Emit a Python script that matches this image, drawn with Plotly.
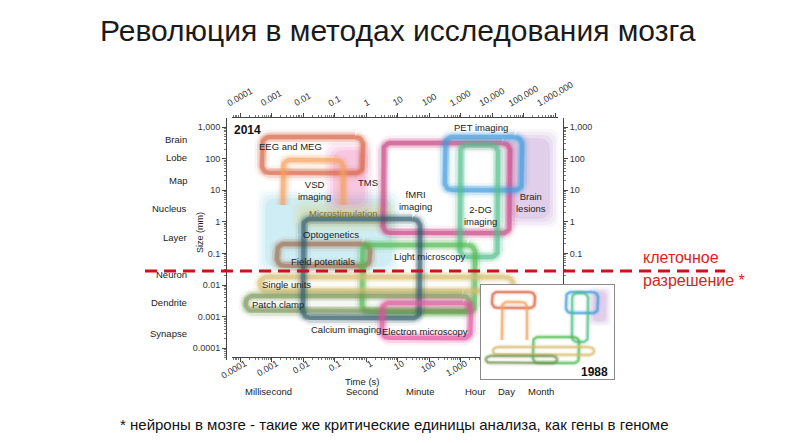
import numpy as np
import plotly.graph_objects as go

# ------------------------------------------------------------------ data
# 2014 panel: outlined methods (time range in s, size range in mm)
methods = ["EEG and MEG", "VSD imaging", "fMRI imaging", "PET imaging", "2-DG imaging",
           "Field potentials", "Light microscopy", "Single units", "Patch clamp",
           "Calcium imaging", "Electron microscopy"]
t_min = [5e-4, 2.3e-3, 3.5, 320, 960, 1.5e-3, 0.75, 4.3e-4, 1.5e-4, 0.01, 3.2]
t_max = [0.8, 0.19, 37000, 90000, 15500, 1.34, 2900, 46000, 2000, 52, 2150]
s_min = [35, 3.4, 0.44, 10, 0.077, 0.04, 0.0014, 0.0065, 0.0015, 0.0009, 0.00021]
s_max = [480, 90, 310, 480, 270, 0.2, 0.185, 0.018, 0.0045, 1.23, 0.0027]

# 2014 panel: soft filled regions
regions = ["Optogenetics", "Microstimulation", "TMS", "Brain lesions"]
r_t_min = [5e-4, 6.5e-3, 0.072, 3.0e4]
r_t_max = [8.3, 6.7, 1.16, 8.6e5]
r_s_min = [0.03, 0.64, 2.7, 1.0]
r_s_max = [7.0, 3.4, 233, 558]

# 1988 panel
methods_1988 = ["EEG and MEG", "VSD imaging", "PET imaging", "2-DG imaging",
                "Light microscopy", "Single units", "Patch clamp"]
t_min_1988 = [2.6e-4, 1.7e-3, 340, 1070, 0.63, 3.1e-4, 8.1e-5]
t_max_1988 = [0.93, 0.2, 1.5e5, 22400, 4070, 7.1e4, 62]
s_min_1988 = [35, 0.066, 13, 0.045, 7.2e-4, 0.0035, 7.2e-4]
s_max_1988 = [790, 112, 790, 660, 0.117, 0.0166, 0.0029]
regions_1988 = ["Brain lesions"]
r_t_min_1988 = [4e4]
r_t_max_1988 = [1e6]
r_s_min_1988 = [1.9]
r_s_max_1988 = [1170]

# axes
time_ticks = [1e-4, 1e-3, 1e-2, 1e-1, 1, 10, 100, 1e3, 1e4, 1e5, 1e6]
time_tick_labels = ["0.0001", "0.001", "0.01", "0.1", "1", "10", "100", "1,000",
                    "10,000", "100,000", "1,000,000"]
size_ticks = [1e3, 100, 10, 1, 0.1, 0.01, 1e-3, 1e-4]
size_tick_labels = ["1,000", "100", "10", "1", "0.1", "0.01", "0.001", "0.0001"]
scale_names = ["Brain", "Lobe", "Map", "Nucleus", "Layer", "Neuron", "Dendrite", "Synapse"]
scale_sizes_mm = [416, 112, 21, 2.6, 0.31, 0.021, 0.0029, 0.0003]
time_units = ["Millisecond", "Second", "Minute", "Hour", "Day", "Month"]
cell_resolution_mm = 0.028

title = "Революция в методах исследования мозга"
footnote = "* нейроны в мозге - такие же критические единицы анализа, как гены в геноме"
red_note = ["клеточное", "разрешение *"]

# ------------------------------------------------------------------ styles / layout
W, H = 795, 443
def px(x): return x / W
def py(y): return 1 - y / H

FONT = "Liberation Sans, Arial, Helvetica, sans-serif"
colors = {
    "EEG and MEG": (214, 98, 66), "VSD imaging": (246, 160, 92),
    "fMRI imaging": (200, 64, 128), "PET imaging": (58, 156, 222),
    "2-DG imaging": (80, 190, 140), "Field potentials": (160, 110, 78),
    "Light microscopy": (78, 185, 78), "Single units": (214, 190, 110),
    "Patch clamp": (120, 150, 85), "Calcium imaging": (45, 90, 105),
    "Electron microscopy": (226, 80, 155), "Optogenetics": (130, 210, 228),
    "Microstimulation": (215, 205, 110), "TMS": (240, 110, 180),
    "Brain lesions": (185, 140, 205),
}
region_alpha = {"Optogenetics": 1.0, "Microstimulation": 1.0, "TMS": 1.0,
                "Brain lesions": 1.1}
open_bottom = {"VSD imaging"}
# label positions (log10 time, log10 size)
label_pos = {
    "EEG and MEG": (-2.41, 2.37, "EEG and MEG"),
    "VSD imaging": (-1.62, 1.0, "VSD<br>imaging"),
    "TMS": (0.06, 1.23, "TMS"),
    "fMRI imaging": (1.56, 0.66, "fMRI<br>imaging"),
    "PET imaging": (3.65, 2.97, "PET imaging"),
    "2-DG imaging": (3.62, 0.21, "2-DG<br>imaging"),
    "Brain lesions": (5.24, 0.6, "Brain<br>lesions"),
    "Microstimulation": (-0.70, 0.25, "Microstimulation"),
    "Optogenetics": (-1.11, -0.39, "Optogenetics"),
    "Field potentials": (-1.37, -1.27, "Field potentials"),
    "Light microscopy": (2.03, -1.11, "Light microscopy"),
    "Single units": (-2.51, -1.97, "Single units"),
    "Patch clamp": (-2.79, -2.63, "Patch clamp"),
    "Calcium imaging": (-0.64, -3.42, "Calcium imaging"),
    "Electron microscopy": (1.87, -3.46, "Electron microscopy"),
}
unit_x_px = [268, 362, 420, 475, 506, 541]


def rgba(c, a):
    return "rgba(%d,%d,%d,%.3f)" % (c[0], c[1], c[2], a)


def rounded(t0, t1, s0, s1, r, opened=False, grow=0.0):
    lx0, lx1 = np.log10(t0) - grow, np.log10(t1) + grow
    ly0, ly1 = np.log10(s0) - grow, np.log10(s1) + grow
    rx = min(r, (lx1 - lx0) / 2)
    ry = min(r, (ly1 - ly0) / 2)
    xs, ys = [], []
    if opened:
        corners = [(lx0 + rx, ly1 - ry, 180, 90), (lx1 - rx, ly1 - ry, 90, 0)]
        xs.append(lx0); ys.append(ly0)
    else:
        corners = [(lx1 - rx, ly1 - ry, 90, 0), (lx1 - rx, ly0 + ry, 0, -90),
                   (lx0 + rx, ly0 + ry, -90, -180), (lx0 + rx, ly1 - ry, 180, 90)]
    for cx, cy, a0, a1 in corners:
        a = np.radians(np.linspace(a0, a1, 9))
        xs += list(cx + rx * np.cos(a))
        ys += list(cy + ry * np.sin(a))
    if opened:
        xs.append(lx1); ys.append(ly0)
    else:
        xs.append(xs[0]); ys.append(ys[0])
    return 10 ** np.array(xs), 10 ** np.array(ys)


fig = go.Figure()


def add_regions(names, a, b, c, d, xa, ya, r, grow):
    for n, t0, t1, s0, s1 in zip(names, a, b, c, d):
        col = colors[n]
        k = region_alpha.get(n, 1.0)
        for g, al in [(grow * 1.8, 0.06), (grow, 0.09), (0, 0.13), (-grow, 0.17)]:
            x, y = rounded(t0, t1, s0, s1, r, grow=g)
            fig.add_trace(go.Scatter(x=x, y=y, mode="lines", fill="toself",
                                     fillcolor=rgba(col, al * k), line=dict(width=0),
                                     xaxis=xa, yaxis=ya, hoverinfo="skip"))


def add_outlines(names, a, b, c, d, xa, ya, r, w):
    for n, t0, t1, s0, s1 in zip(names, a, b, c, d):
        col = colors[n]
        for ww, al in [(w * 3.0, 0.08), (w * 2.0, 0.18), (w * 1.3, 0.3), (w * 0.8, 0.5)]:
            x, y = rounded(t0, t1, s0, s1, r, opened=(n in open_bottom))
            fig.add_trace(go.Scatter(x=x, y=y, mode="lines",
                                     line=dict(width=ww, color=rgba(col, al)),
                                     xaxis=xa, yaxis=ya, hoverinfo="skip"))


add_regions(regions, r_t_min, r_t_max, r_s_min, r_s_max, "x", "y", 0.3, 0.1)
add_outlines(methods, t_min, t_max, s_min, s_max, "x", "y", 0.24, 5.0)
add_regions(regions_1988, r_t_min_1988, r_t_max_1988, r_s_min_1988, r_s_max_1988,
            "x3", "y3", 0.4, 0.15)
add_outlines(methods_1988, t_min_1988, t_max_1988, s_min_1988, s_max_1988,
             "x3", "y3", 0.45, 2.2)
# anchor traces for the extra axes
fig.add_trace(go.Scatter(x=[None], y=[None], xaxis="x2", yaxis="y", hoverinfo="skip"))
fig.add_trace(go.Scatter(x=[None], y=[None], xaxis="x", yaxis="y2", hoverinfo="skip"))

axcol = "#444"
base = dict(type="log", showgrid=False, zeroline=False, showline=True, linecolor=axcol,
            linewidth=1, ticks="outside", ticklen=4, tickcolor=axcol, automargin=False,
            tickfont=dict(size=9, color="#333", family=FONT),
            minor=dict(ticks="outside", ticklen=2, tickcolor="#777", dtick="D1",
                       showgrid=False))
xr = [-4.254, 6.095]
yr = [-4.373, 3.285]

fig.update_layout(
    width=W, height=H, margin=dict(l=0, r=0, t=0, b=0, autoexpand=False),
    paper_bgcolor="white", plot_bgcolor="white", showlegend=False,
    font=dict(family=FONT, color="#222"),
    xaxis=dict(base, domain=[px(232), px(558)], range=xr, side="top", anchor="free",
               position=py(117), tickvals=time_ticks, showticklabels=False),
    xaxis2=dict(base, overlaying="x", range=xr, side="bottom", anchor="free",
                position=py(357), tickvals=time_ticks[:8],
                ticktext=time_tick_labels[:8], tickangle=-30,
                ticklabelstandoff=-7, ticklabelshift=5),
    yaxis=dict(base, domain=[py(360), py(118)], range=yr, side="left", anchor="free",
               position=px(226), tickvals=size_ticks, ticktext=size_tick_labels),
    yaxis2=dict(base, overlaying="y", range=yr, side="right", anchor="free",
                position=px(563), tickvals=size_ticks[:5], ticktext=size_tick_labels[:5]),
    xaxis3=dict(type="log", domain=[px(481), px(614)], range=[-4.5, 6.5], anchor="y3",
                showline=True, mirror=True, linecolor="#8a8a8a", linewidth=1,
                showgrid=False, zeroline=False, showticklabels=False, ticks="",
                automargin=False),
    yaxis3=dict(type="log", domain=[py(379), py(285)], range=[-4.5, 3.5], anchor="x3",
                showline=True, mirror=True, linecolor="#8a8a8a", linewidth=1,
                showgrid=False, zeroline=False, showticklabels=False, ticks="",
                automargin=False),
)

ann = []
def A(**k):
    k.setdefault("showarrow", False)
    k.setdefault("xanchor", "center")
    k.setdefault("yanchor", "middle")
    ann.append(k)

A(text=title, x=0.5, y=py(31), xref="paper", yref="paper",
  font=dict(size=30, color="#1a1a1a"))
A(text=footnote, x=px(394), y=py(424), xref="paper", yref="paper",
  font=dict(size=15, color="#111"))
A(text=red_note[0], x=px(641), y=py(257), xref="paper", yref="paper", xanchor="left",
  font=dict(size=16, color="#d4261c"))
A(text=red_note[1], x=px(641), y=py(280), xref="paper", yref="paper", xanchor="left",
  font=dict(size=16, color="#d4261c"))
A(text="<b>2014</b>", x=px(232), y=py(130), xref="paper", yref="paper", xanchor="left",
  font=dict(size=12, color="#111"))
A(text="<b>1988</b>", x=px(610), y=py(372), xref="paper", yref="paper", xanchor="right",
  font=dict(size=12, color="#111"))
A(text="Time (s)", x=px(362), y=py(381), xref="paper", yref="paper", font=dict(size=9.5))
A(text="Size (mm)", x=px(200), y=py(233), xref="paper", yref="paper", textangle=-90,
  font=dict(size=9))
for v, lab in zip(time_ticks, time_tick_labels):
    A(text=lab, x=np.log10(v), y=py(111), xref="x", yref="paper", yanchor="bottom",
      textangle=-30, font=dict(size=9, color="#333"))
for n, s in zip(scale_names, scale_sizes_mm):
    A(text=n, x=px(189), y=np.log10(s), xref="paper", yref="y", xanchor="right",
      font=dict(size=9.5, color="#222"))
for n, xx in zip(time_units, unit_x_px):
    A(text=n, x=px(xx), y=py(391), xref="paper", yref="paper", font=dict(size=9.5))
for n, (lx, ly, txt) in label_pos.items():
    c = "#8a6d1e" if n == "Microstimulation" else "#222"
    A(text=txt, x=lx, y=ly, xref="x", yref="y", font=dict(size=9.5, color=c))
fig.update_layout(annotations=ann)

fig.add_shape(type="line", xref="paper", yref="y", x0=px(145), x1=px(725),
              y0=cell_resolution_mm, y1=cell_resolution_mm, layer="above",
              line=dict(color="#c8141c", width=3, dash="12px,7px"))

fig.write_html("out.html", config={"displayModeBar": False},
               post_script="document.body.style.margin='0';")
